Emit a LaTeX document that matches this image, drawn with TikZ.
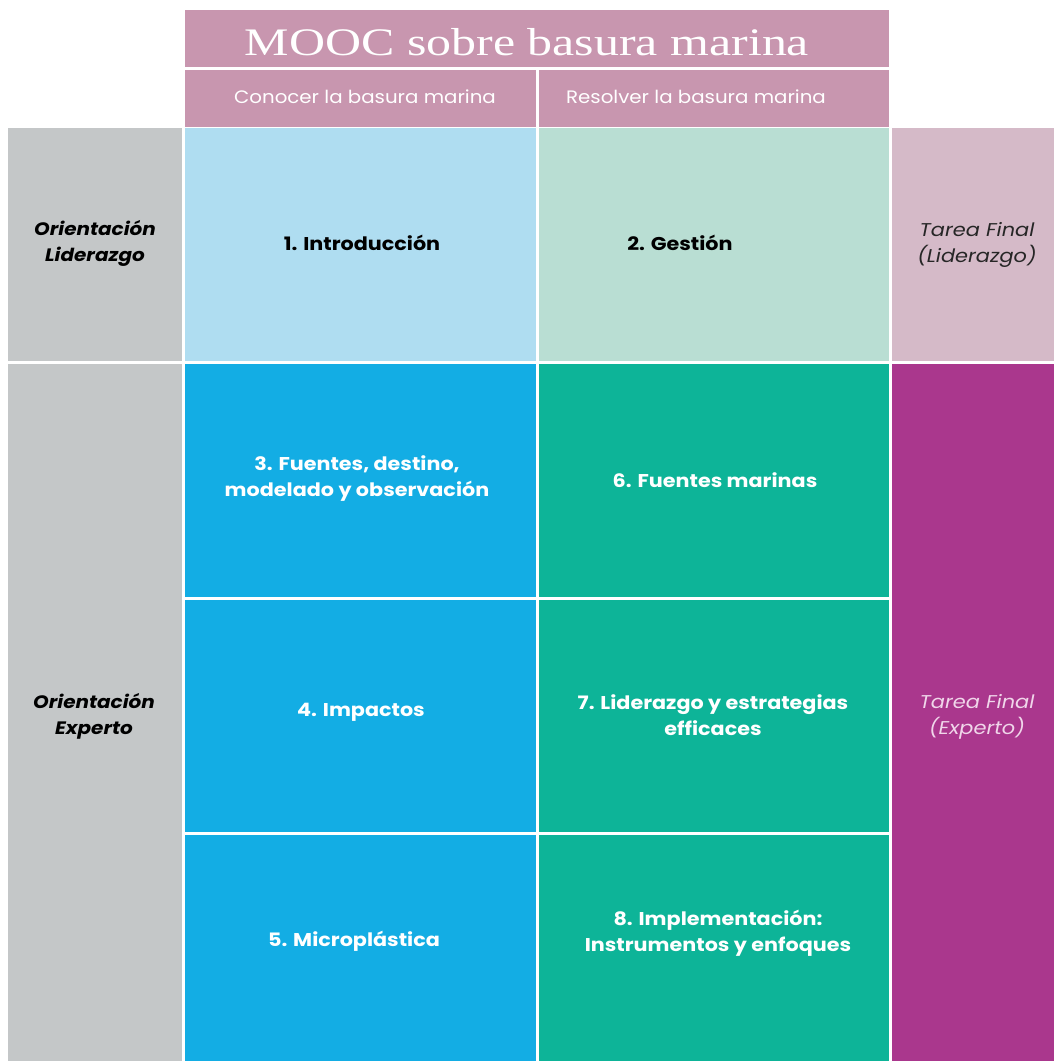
\documentclass[tikz,border=0pt]{standalone}
\usepackage{fontspec}
\setmainfont{Poppins}
\newfontfamily\titlefont{Liberation Serif}
\definecolor{titlepink}{HTML}{C896AF}
\definecolor{lightblue}{HTML}{AFDDF1}
\definecolor{lightgreen}{HTML}{B9DED3}
\definecolor{lightpink}{HTML}{D5BAC8}
\definecolor{greycol}{HTML}{C4C7C8}
\definecolor{bluecol}{HTML}{13ADE4}
\definecolor{greencol}{HTML}{0DB498}
\definecolor{purplecol}{HTML}{AA378D}
\definecolor{palepink}{HTML}{F0D6EA}
\begin{document}
\begin{tikzpicture}[x=1pt,y=-1pt,
  cell/.style={inner sep=0pt, outer sep=0pt, anchor=north west, draw=none},
  lbl/.style={inner sep=0pt, align=center, font=\fontsize{18.5}{26}\selectfont\bfseries, text=white, xscale=1.12, transform shape},
  dlbl/.style={lbl, text=black},
  sub/.style={inner sep=0pt, font=\fontsize{18}{20}\selectfont, text=white, xscale=1.1, transform shape},
  orient/.style={inner sep=0pt, align=center, font=\fontsize{18}{26}\selectfont\bfseries\itshape, text=black, xscale=1.11, transform shape},
  tarea/.style={inner sep=0pt, align=center, font=\fontsize{18.5}{26}\selectfont\itshape, xscale=1.13, transform shape}]
\useasboundingbox (0,0) rectangle (1054,1061);
\fill[white] (0,0) rectangle (1054,1061);
% header
\node[cell, fill=titlepink, minimum width=704pt, minimum height=57pt] (title) at (185,10) {};
\node[cell, fill=titlepink, minimum width=351pt, minimum height=56.5pt] (subA) at (185,70) {};
\node[cell, fill=titlepink, minimum width=350pt, minimum height=56.5pt] (subB) at (539,70) {};
% left column
\node[cell, fill=greycol, minimum width=174pt, minimum height=233pt] (oL) at (8,128) {};
\node[cell, fill=greycol, minimum width=174pt, minimum height=697pt] (oE) at (8,364) {};
% row 1
\node[cell, fill=lightblue, minimum width=351pt, minimum height=233pt] (c1) at (185,128) {};
\node[cell, fill=lightgreen, minimum width=350pt, minimum height=233pt] (c2) at (539,128) {};
\node[cell, fill=lightpink, minimum width=162pt, minimum height=233pt] (tL) at (892,128) {};
% expert rows
\node[cell, fill=bluecol, minimum width=351pt, minimum height=232.5pt] (c3) at (185,364) {};
\node[cell, fill=greencol, minimum width=350pt, minimum height=232.5pt] (c6) at (539,364) {};
\node[cell, fill=bluecol, minimum width=351pt, minimum height=232pt] (c4) at (185,599.5) {};
\node[cell, fill=greencol, minimum width=350pt, minimum height=232pt] (c7) at (539,599.5) {};
\node[cell, fill=bluecol, minimum width=351pt, minimum height=226.5pt] (c5) at (185,834.5) {};
\node[cell, fill=greencol, minimum width=350pt, minimum height=226.5pt] (c8) at (539,834.5) {};
\node[cell, fill=purplecol, minimum width=162pt, minimum height=697pt] (tE) at (892,364) {};
% texts
\node[inner sep=0pt, text=white, font=\titlefont\fontsize{39}{40}\selectfont, xscale=1.28, transform shape] (titleT) at (527,42) {MOOC sobre basura marina};
\node[sub] (subAT) at (365,97) {Conocer la basura marina};
\node[sub] (subBT) at (696,97) {Resolver la basura marina};
\node[orient] (oLT) at (95,243) {Orientación\\Liderazgo};
\node[orient] (oET) at (94,716) {Orientación\\Experto};
\node[dlbl] (c1T) at (362,243) {1. Introducción};
\node[dlbl] (c2T) at (680,243) {2. Gestión};
\node[tarea, text=black!85] (tLT) at (977,244.5) {Tarea Final\\(Liderazgo)};
\node[lbl] (c3T) at (357,479) {3. Fuentes, destino,\\modelado y observación};
\node[lbl] (c6T) at (715,480) {6. Fuentes marinas};
\node[lbl] (c4T) at (361,712) {4. Impactos};
\node[lbl] (c7T) at (713,715) {7. Liderazgo y estrategias\\efficaces};
\node[lbl] (c5T) at (354,941) {5. Microplástica};
\node[lbl] (c8T) at (718,933) {8. Implementación:\\Instrumentos y enfoques};
\node[tarea, text=palepink] (tET) at (977,717) {Tarea Final\\(Experto)};
\end{tikzpicture}
\end{document}
